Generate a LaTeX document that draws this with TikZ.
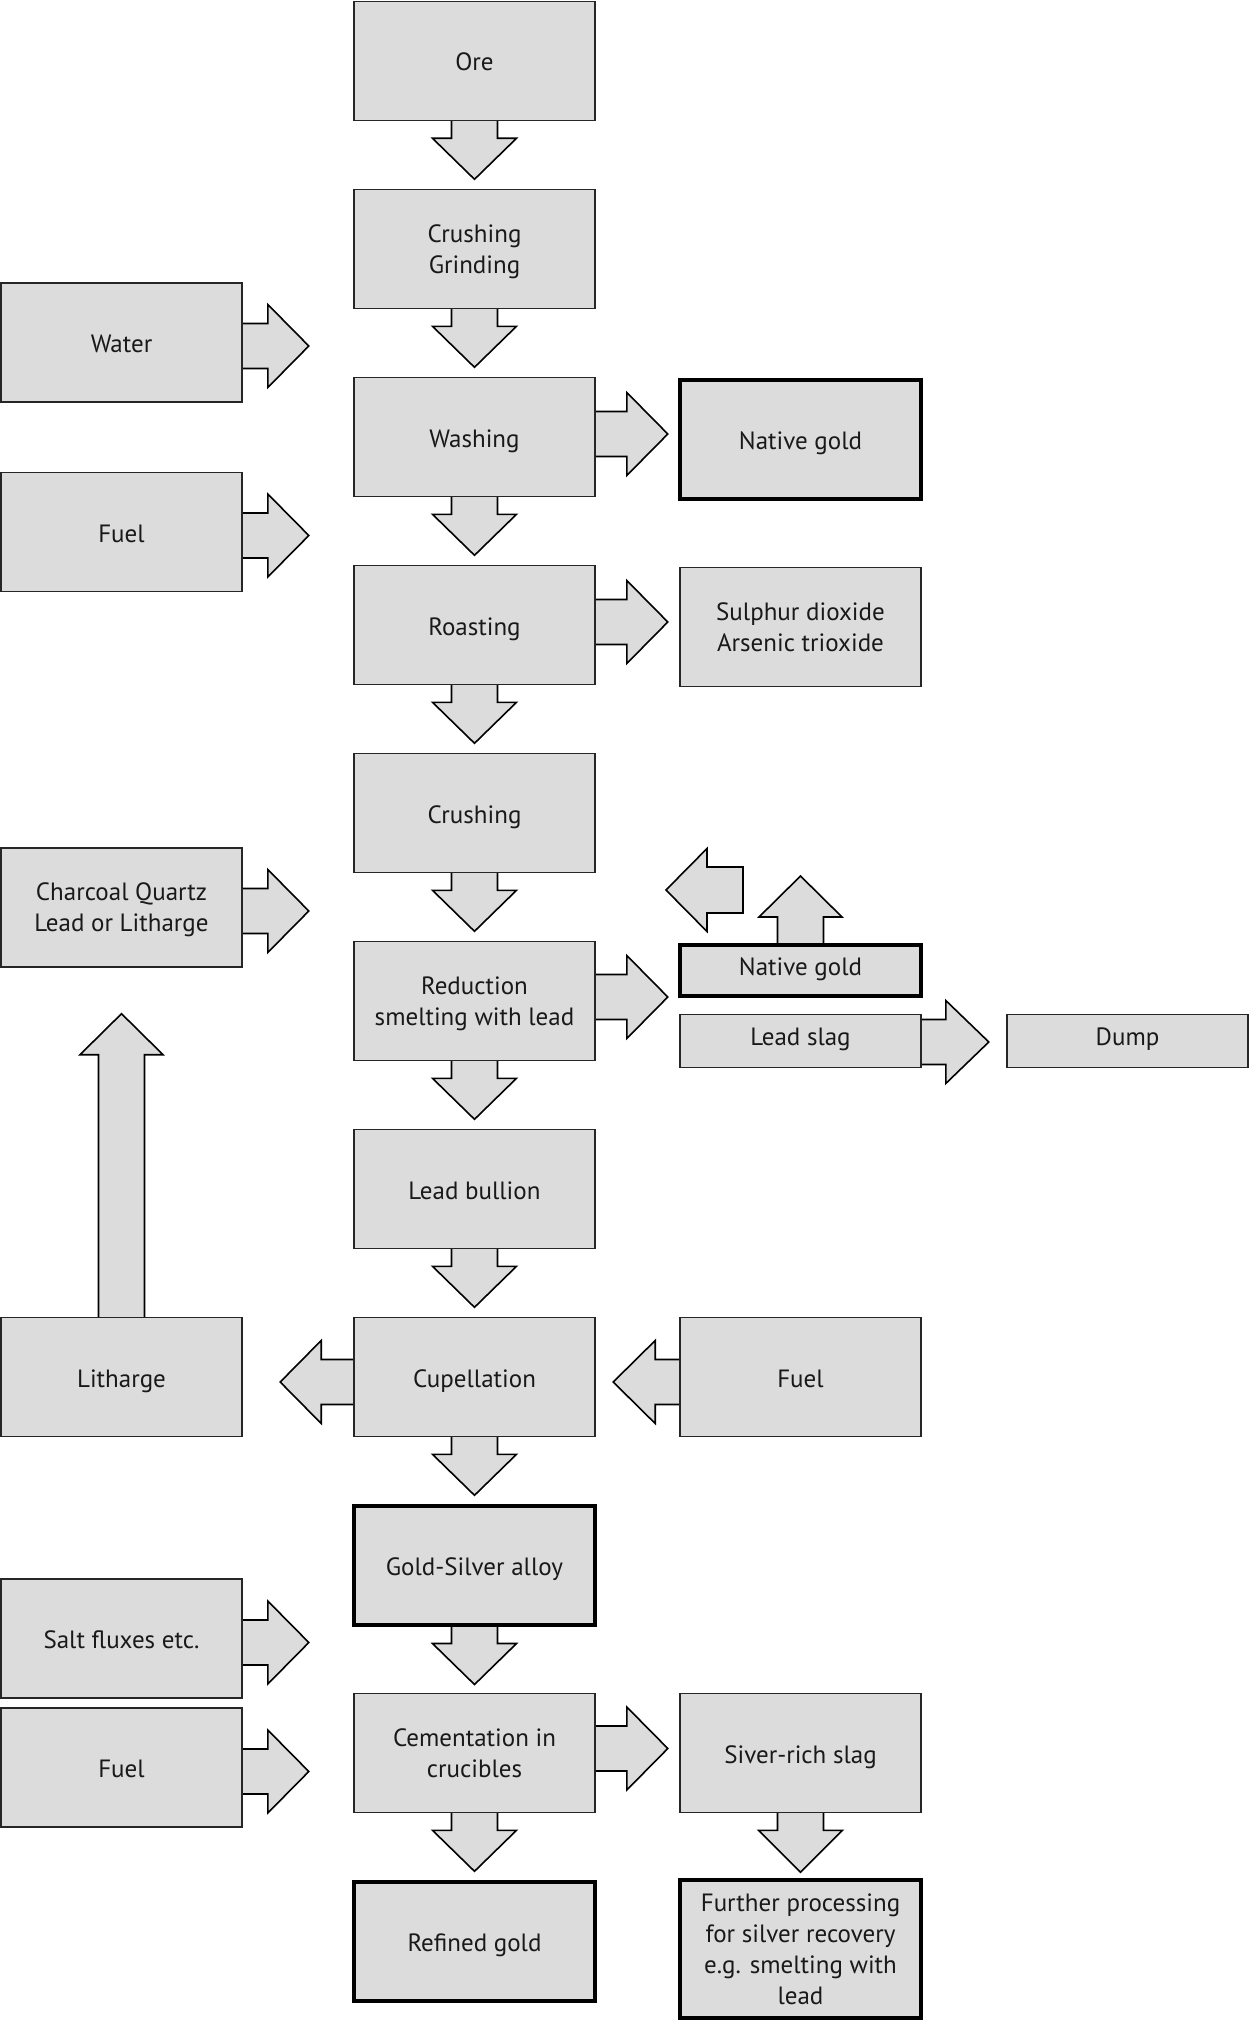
\documentclass[tikz,border=0pt]{standalone}
\usepackage{fontspec}
\setmainfont{PT Sans}
\usetikzlibrary{calc}
\definecolor{boxgray}{RGB}{220,220,220}
\pgfdeclarelayer{bg}
\pgfsetlayers{bg,main}
\tikzset{
  box/.style={draw=black!85, line width=1.6pt, fill=boxgray, minimum width=241pt,
    minimum height=119pt, inner sep=2pt, align=center, text=black!90,
    font=\fontsize{25}{31}\selectfont, text depth=0pt,
    execute at begin node={\rule{0pt}{20pt}}},
  boldbox/.style={box, draw=black, line width=4pt},
  slim/.style={text depth=11pt},
  blk/.style={draw=black, line width=1.6pt, fill=boxgray, line join=miter},
}
% block arrows: #1 start point, #2 shaft length, #3 head length
\newcommand\ArrR[3]{\draw[blk,shift={#1}] (-3,-22.5) -- (#2,-22.5) -- (#2,-41.5) -- ({#2+#3},0) -- (#2,41.5) -- (#2,22.5) -- (-3,22.5) -- cycle;}
\newcommand\ArrL[3]{\draw[blk,shift={#1}] (3,-22.5) -- (-#2,-22.5) -- (-#2,-41.5) -- ({-#2-#3},0) -- (-#2,41.5) -- (-#2,22.5) -- (3,22.5) -- cycle;}
\newcommand\ArrD[3]{\draw[blk,shift={#1}] (-23,-3) -- (-23,#2) -- (-42,#2) -- (0,{#2+#3}) -- (42,#2) -- (23,#2) -- (23,-3) -- cycle;}
\newcommand\ArrU[3]{\draw[blk,shift={#1}] (-23,3) -- (-23,-#2) -- (-41.5,-#2) -- (0,{-#2-#3}) -- (41.5,-#2) -- (23,-#2) -- (23,3) -- cycle;}
\begin{document}
\begin{tikzpicture}[x=1pt,y=-1pt]
\begin{pgfonlayer}{bg}
  \fill[white] (0,0) rectangle (1250,2031);
\end{pgfonlayer}
\useasboundingbox (0,0) rectangle (1250,2031);

% main column
\node[box]     (ore)     at (474.5,61)   {Ore};
\node[box]     (crush1)  at (474.5,249)  {Crushing\\Grinding};
\node[box]     (wash)    at (474.5,437)  {Washing};
\node[box]     (roast)   at (474.5,625)  {Roasting};
\node[box]     (crush2)  at (474.5,813)  {Crushing};
\node[box]     (reduc)   at (474.5,1001) {Reduction\\smelting with lead};
\node[box]     (bullion) at (474.5,1189) {Lead bullion};
\node[box]     (cupel)   at (474.5,1377) {Cupellation};
\node[boldbox] (alloy)   at (474.5,1565) {Gold-Silver alloy};
\node[box]     (cement)  at (474.5,1753) {Cementation in\\crucibles};
\node[boldbox] (refined) at (474.5,1941) {Refined gold};

% left column
\node[box] (water)    at (121.5,342.5)  {Water};
\node[box] (fuelA)    at (121.5,532)    {Fuel};
\node[box] (charcoal) at (121.5,907.5)  {Charcoal Quartz\\Lead or Litharge};
\node[box] (litharge) at (121.5,1377)   {Litharge};
\node[box] (salt)     at (121.5,1638.5) {Salt fluxes etc.};
\node[box] (fuelC)    at (121.5,1767.5) {Fuel};

% right column
\node[boldbox] (native1)  at (800.5,439.5) {Native gold};
\node[box]     (sulphur)  at (800.5,627)   {Sulphur dioxide\\Arsenic trioxide};
\node[boldbox, slim, minimum height=51pt] (native2) at (800.5,970.5) {Native gold};
\node[box, slim, minimum height=53pt] (leadslag) at (800.5,1041) {Lead slag};
\node[box, slim, minimum height=53pt] (dump)     at (1127.5,1041) {Dump};
\node[box]     (fuelB)    at (800.5,1377)  {Fuel};
\node[box]     (siver)    at (800.5,1753)  {Siver-rich slag};
\node[boldbox, minimum height=138pt] (further) at (800.5,1949) {Further processing\\for silver recovery\\e.g. smelting with\\lead};

\begin{pgfonlayer}{bg}
  % main downward flow
  \ArrD{(ore.south)}{17}{41}
  \ArrD{(crush1.south)}{17}{41}
  \ArrD{(wash.south)}{17}{41}
  \ArrD{(roast.south)}{17}{41}
  \ArrD{(crush2.south)}{17}{41}
  \ArrD{(reduc.south)}{17}{41}
  \ArrD{(bullion.south)}{17}{41}
  \ArrD{(cupel.south)}{17}{41}
  \ArrD{(alloy.south)}{17}{41}
  \ArrD{(cement.south)}{17}{41}
  \ArrD{(siver.south)}{17}{42}
  % inputs from the left
  \ArrR{($(water.east)+(0,3.5)$)}{25}{41}
  \ArrR{($(fuelA.east)+(0,3.5)$)}{25}{41}
  \ArrR{($(charcoal.east)+(0,3.5)$)}{25}{41}
  \ArrR{($(salt.east)+(0,4)$)}{25}{41}
  \ArrR{($(fuelC.east)+(0,4)$)}{25}{41}
  % outputs to the right
  \ArrR{($(wash.east)+(0,-3)$)}{31}{41}
  \ArrR{($(roast.east)+(0,-3)$)}{31}{41}
  \ArrR{($(reduc.east)+(0,-4)$)}{31}{41}
  \ArrR{($(cement.east)+(0,-4.5)$)}{31}{41}
  \ArrR{($(leadslag.east)+(0,1)$)}{24}{43}
  % cupellation
  \ArrL{($(cupel.west)+(0,5)$)}{32}{41}
  \ArrL{($(fuelB.west)+(0,5)$)}{24}{42}
  % upward arrows
  \ArrU{(native2.north)}{26}{41}
  \ArrU{(litharge.north)}{262}{41}
\end{pgfonlayer}
% free arrow above native gold
\coordinate (freeL) at ($(native2.north west)+(65,-53)$);
\draw[blk,shift={(freeL)}] (0,-23) -- (-36,-23) -- (-36,-41.5) -- (-77,0) -- (-36,41.5) -- (-36,23) -- (0,23) -- cycle;
\end{tikzpicture}
\end{document}
